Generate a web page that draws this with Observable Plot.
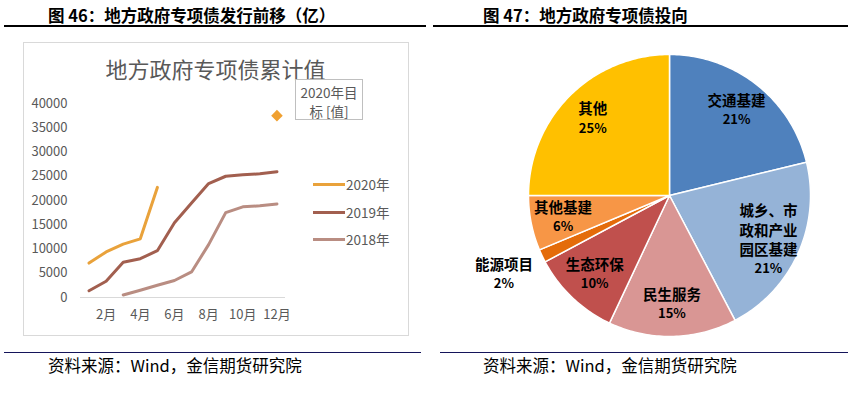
<!DOCTYPE html>
<html>
<head>
<meta charset="utf-8">
<script src="https://cdn.jsdelivr.net/npm/d3@7"></script>
<script src="https://cdn.jsdelivr.net/npm/@observablehq/plot@0.6"></script>
<style>
  html, body { margin: 0; padding: 0; background: #fff; }
  #page { position: relative; width: 851px; height: 396px; overflow: hidden; background: #fff;
          font-family: "Noto Sans CJK SC", "Noto Sans", sans-serif; }
  .abs { position: absolute; }
  .fig-title { font-weight: bold; font-size: 16.5px; line-height: 20px; color: #000; white-space: nowrap; }
  .top-rule { height: 1.6px; background: #000; }
  .bot-rule { height: 1.3px; background: #14145a; }
  .source { font-size: 16.5px; line-height: 20px; color: #000; white-space: nowrap; }
  .chart-box { border: 1px solid #d9d9d9; box-sizing: border-box; }
  .chart-title { font-size: 22px; line-height: 22px; color: #595959; white-space: nowrap; text-align: center; }
  .leg-line { height: 3px; }
  .leg-text { font-size: 13.5px; line-height: 16px; color: #595959; white-space: nowrap; }
  .dlabel { border: 1px solid #bfbfbf; box-sizing: border-box; background: #fff; }
  .dlabel-text { color: #595959; font-size: 13.5px; line-height: 16px; text-align: center; white-space: nowrap; }
</style>
</head>
<body>
<div id="page"></div>
<script>
// ---------- Left chart data (亿元, cumulative) ----------
const months = [1, 2, 3, 4, 5, 6, 7, 8, 9, 10, 11, 12];
const monthTicks = [2, 4, 6, 8, 10, 12];
const yTicks = [0, 5000, 10000, 15000, 20000, 25000, 30000, 35000, 40000];
const seriesNames = ["2020年", "2019年", "2018年"];
const seriesColors = ["#E9A23B", "#A25F4F", "#B98D82"];
const values2020 = [7100, 9400, 11000, 12100, 22700];
const values2019 = [1400, 3350, 7250, 8000, 9650, 15400, 19500, 23500, 25000, 25300, 25500, 25950];
const values2018 = [null, null, 530, 1500, 2530, 3500, 5270, 10900, 17500, 18700, 18900, 19300];
const target2020 = 37500;
const targetMonth = 12;
const targetLabel = ["2020年目", "标 [值]"];
const targetColor = "#F0A030";
const leftChartTitle = "地方政府专项债累计值";

// ---------- Right chart data (share, %) ----------
const pieKeys = ["交通基建", "城乡市政产业园区", "民生服务", "生态环保", "能源项目", "其他基建", "其他"];
const pieLabels = ["交通基建", "城乡、市\n政和产业\n园区基建", "民生服务", "生态环保", "能源项目", "其他基建", "其他"];
const pieShares = [21.2, 21.1, 14.7, 10.2, 1.5, 6.3, 25.0];
const pieColors = ["#4F81BD", "#95B3D7", "#D99694", "#C0504D", "#E46C0A", "#F79646", "#FFC000"];

// ---------- Text ----------
const titleLeft = "图 46：地方政府专项债发行前移（亿）";
const titleRight = "图 47：地方政府专项债投向";
const sourceText = "资料来源：Wind，金信期货研究院";

const page = document.getElementById("page");
function el(cls, style, text) {
  const d = document.createElement("div");
  d.className = "abs " + cls;
  Object.assign(d.style, style);
  if (text != null) d.textContent = text;
  page.appendChild(d);
  return d;
}

// Headers and footers
el("fig-title", {left: "48px", top: "5px"}, titleLeft);
el("fig-title", {left: "483px", top: "5px"}, titleRight);
el("top-rule", {left: "4px", top: "25px", width: "422px"});
el("top-rule", {left: "433px", top: "25px", width: "415px"});
el("bot-rule", {left: "4px", top: "351.5px", width: "417px"});
el("bot-rule", {left: "440px", top: "351.5px", width: "408px"});
el("source", {left: "48px", top: "355px"}, sourceText);
el("source", {left: "483px", top: "355px"}, sourceText);

// ---------- Left chart ----------
const rows = [];
[values2020, values2019, values2018].forEach((arr, i) => {
  arr.forEach((v, j) => { if (v != null) rows.push({month: months[j], value: v, series: seriesNames[i]}); });
});

const FONT = "'Noto Sans CJK SC', 'Noto Sans', sans-serif";
const leftPlot = Plot.plot({
  width: 385, height: 293,
  marginLeft: 57, marginRight: 123, marginTop: 61, marginBottom: 38,
  style: {fontFamily: FONT, fontSize: "13px", color: "#595959", background: "transparent", overflow: "visible"},
  x: {domain: [0.5, 12.5], ticks: monthTicks, tickFormat: d => d + "月", tickSize: 0, tickPadding: 12, label: null},
  y: {domain: [0, 40000], ticks: yTicks, tickFormat: d => String(d), tickSize: 0, tickPadding: 13, label: null},
  color: {domain: seriesNames, range: seriesColors},
  marks: [
    Plot.ruleY([0], {stroke: "#d9d9d9", strokeWidth: 1}),
    Plot.line(rows, {x: "month", y: "value", z: "series", stroke: "series", strokeWidth: 3,
                     strokeLinejoin: "round", strokeLinecap: "round"}),
    Plot.dot([{month: targetMonth, value: target2020}], {x: "month", y: "value", symbol: "diamond2",
                     r: 5.2, fill: targetColor, stroke: "none"})
  ]
});
const lwrap = el("", {left: "23px", top: "42px", width: "385px", height: "293px"});
lwrap.appendChild(leftPlot);
el("chart-box", {left: "23px", top: "42px", width: "386px", height: "294px"});
el("chart-title", {left: "23px", top: "57px", width: "385px"}, leftChartTitle);

// Legend
const legTops = [184, 212, 239];
seriesNames.forEach((n, i) => {
  el("leg-line", {left: "313px", top: (legTops[i] - 1.5) + "px", width: "32px", background: seriesColors[i]});
  el("leg-text", {left: "346px", top: (legTops[i] - 8) + "px"}, n);
});
// Data label box (two separate text lines)
el("dlabel", {left: "295px", top: "79px", width: "68px", height: "41px"});
targetLabel.forEach((t, i) => {
  el("dlabel-text", {left: "295px", top: (84 + i * 18.5) + "px", width: "68px"}, t);
});

// ---------- Right chart (pie) ----------
const R = 141, CX = 234, CY = 165;
const NAME_SIZE = 14.5, PCT_SIZE = 13, LH = 1.34;
const total = d3.sum(pieShares);
const slices = [];
const labelRows = [];
let acc = 0;
pieShares.forEach((s, i) => {
  const a0 = acc / total * 2 * Math.PI;
  acc += s;
  const a1 = acc / total * 2 * Math.PI;
  const steps = Math.max(2, Math.ceil((a1 - a0) / (Math.PI / 180)));
  slices.push({x: 0, y: 0, key: pieKeys[i]});
  for (let k = 0; k <= steps; k++) {
    const a = a0 + (a1 - a0) * k / steps;
    slices.push({x: Math.sin(a), y: Math.cos(a), key: pieKeys[i]});
  }
  slices.push({x: 0, y: 0, key: pieKeys[i]});
  const mid = (a0 + a1) / 2;
  const outside = s < 3;
  const rr = outside ? 1.3 : 0.77;
  const nLines = pieLabels[i].split("\n").length;
  const L = NAME_SIZE * LH, Ph = 21;
  const px = rr * Math.sin(mid), py = rr * Math.cos(mid);
  labelRows.push({
    x: px,
    nameY: py + (Ph / 2) / R,          // name block centre
    pctY: py - (nLines * L / 2) / R,   // percent below the name block
    name: pieLabels[i],
    pct: Math.round(s) + "%"
  });
});

const piePlot = Plot.plot({
  width: 413, height: 320, margin: 0,
  style: {fontFamily: FONT, background: "transparent", overflow: "visible"},
  x: {domain: [-1, 1], range: [CX - R, CX + R], axis: null},
  y: {domain: [-1, 1], range: [CY + R, CY - R], axis: null},
  color: {domain: pieKeys, range: pieColors},
  marks: [
    Plot.line(slices, {x: "x", y: "y", z: "key", fill: "key", stroke: "#ffffff", strokeWidth: 1.5,
                       strokeLinejoin: "round"}),
    Plot.text(labelRows, {x: "x", y: "nameY", text: "name", fontSize: NAME_SIZE,
                          fontWeight: "bold", lineHeight: LH, fill: "#000"}),
    Plot.text(labelRows, {x: "x", y: "pctY", text: "pct", fontSize: PCT_SIZE,
                          fontWeight: "bold", fill: "#000"})
  ]
});
const rwrap = el("", {left: "435px", top: "30px", width: "413px", height: "320px"});
rwrap.appendChild(piePlot);
</script>
</body>
</html>
